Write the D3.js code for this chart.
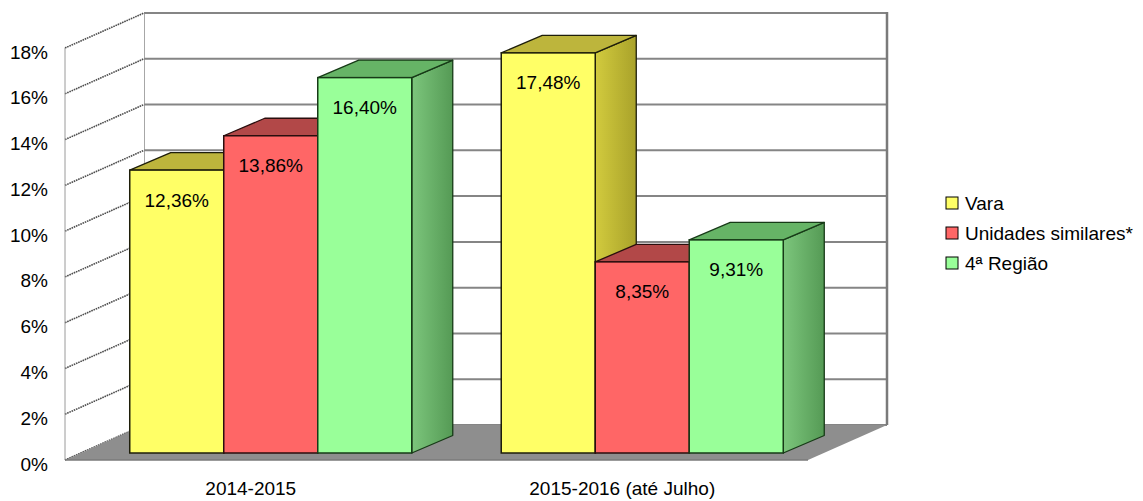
<!DOCTYPE html>
<html>
<head>
<meta charset="utf-8">
<script src="https://cdn.jsdelivr.net/npm/d3@7"></script>
<style>
  html, body { margin: 0; padding: 0; background: #fff; }
  svg { display: block; font-family: "Liberation Sans", Arial, Helvetica, sans-serif; }
</style>
</head>
<body>
<svg id="chart" width="1143" height="501"></svg>
<script>
// Taxa por período, em %
const categories = ["2014-2015", "2015-2016 (até Julho)"];
const seriesNames = ["Vara", "Unidades similares*", "4ª Região"];
const vara = [12.36, 17.48];
const unidadesSimilares = [13.86, 8.35];
const quartaRegiao = [16.40, 9.31];
const yTicks = [0, 2, 4, 6, 8, 10, 12, 14, 16, 18];

const seriesValues = [vara, unidadesSimilares, quartaRegiao];

// Face colours for each series: front, top, side (light → dark), outline
const palette = [
  { front: "#ffff66", top: "#bdb53c", sideA: "#d2cb3e", sideB: "#a9a22a", edge: "#1e1e0a" },
  { front: "#ff6666", top: "#b24848", sideA: "#c85252", sideB: "#a03c3c", edge: "#2a0e0e" },
  { front: "#99ff99", top: "#66b466", sideA: "#7cc67c", sideB: "#559a55", edge: "#173a17" }
];

const svg = d3.select("#chart");
const defs = svg.append("defs");
palette.forEach((c, i) => {
  const g = defs.append("linearGradient").attr("id", "side" + i)
    .attr("x1", "0%").attr("x2", "100%").attr("y1", "0%").attr("y2", "0%");
  g.append("stop").attr("offset", "0%").attr("stop-color", c.sideA);
  g.append("stop").attr("offset", "100%").attr("stop-color", c.sideB);
});

// Front plane of the 3D box and projection offsets
const plotLeft = 65, plotRight = 808;
const y = d3.scaleLinear().domain([0, 18]).range([460, 48]);
const wall = { dx: 79, dy: -35 };      // full depth of the box
const face = { dx: 20, dy: -7 };       // where the bar fronts sit
const barDepth = { dx: 41, dy: -17.5 };

const x0 = d3.scaleBand().domain(categories).range([plotLeft, plotRight]);
const x1 = d3.scaleBand().domain(seriesNames).range([0, x0.bandwidth()]).paddingOuter(0.476);

const pts = a => a.map(p => p.join(",")).join(" ");
const y0 = y(0), yMax = y(18);

// Back wall
svg.append("polygon")
  .attr("points", pts([[plotLeft + wall.dx, yMax + wall.dy], [plotRight + wall.dx, yMax + wall.dy],
                       [plotRight + wall.dx, y0 + wall.dy], [plotLeft + wall.dx, y0 + wall.dy]]))
  .attr("fill", "#fff");

// Back wall grid lines
svg.append("g").selectAll("line").data(yTicks).join("line")
  .attr("x1", plotLeft + wall.dx).attr("x2", plotRight + wall.dx)
  .attr("y1", d => y(d) + wall.dy).attr("y2", d => y(d) + wall.dy)
  .attr("stroke", "#858585").attr("stroke-width", 2);

// Back wall right edge and left back edge
svg.append("line")
  .attr("x1", plotRight + wall.dx).attr("x2", plotRight + wall.dx)
  .attr("y1", yMax + wall.dy - 1).attr("y2", y0 + wall.dy)
  .attr("stroke", "#7a7a7a").attr("stroke-width", 2.5);
svg.append("line")
  .attr("x1", plotLeft + wall.dx).attr("x2", plotLeft + wall.dx)
  .attr("y1", yMax + wall.dy).attr("y2", y0 + wall.dy)
  .attr("stroke", "#8a8a8a").attr("stroke-width", 1.5);

// Left side wall
svg.append("polygon")
  .attr("points", pts([[plotLeft, yMax], [plotLeft + wall.dx, yMax + wall.dy],
                       [plotLeft + wall.dx, y0 + wall.dy], [plotLeft, y0]]))
  .attr("fill", "#fff");
svg.append("g").selectAll("line").data(yTicks).join("line")
  .attr("x1", plotLeft).attr("x2", plotLeft + wall.dx)
  .attr("y1", d => y(d)).attr("y2", d => y(d) + wall.dy)
  .attr("stroke", "#4e4e4e").attr("stroke-width", 1.6)
  .attr("stroke-dasharray", "1.6 0.8");
svg.append("line")
  .attr("x1", plotLeft).attr("x2", plotLeft)
  .attr("y1", yMax).attr("y2", y0)
  .attr("stroke", "#9a9a9a").attr("stroke-width", 1);

// Floor
svg.append("polygon")
  .attr("points", pts([[plotLeft, y0], [plotRight, y0],
                       [plotRight + wall.dx, y0 + wall.dy], [plotLeft + wall.dx, y0 + wall.dy]]))
  .attr("fill", "#8e8e8e");
svg.append("line")
  .attr("x1", plotLeft).attr("x2", plotRight).attr("y1", y0).attr("y2", y0)
  .attr("stroke", "#7a7a7a").attr("stroke-width", 1.5);

// Bars
const fmt = d3.formatLocale({ decimal: ",", thousands: ".", grouping: [3], currency: ["", ""] }).format(".2f");
const bars = [];
categories.forEach((cat, i) => {
  seriesNames.forEach((s, j) => {
    bars.push({ cat, s, j, v: seriesValues[j][i] });
  });
});

const barG = svg.append("g");
bars.forEach(b => {
  const xl = x0(b.cat) + x1(b.s) + face.dx;
  const w = x1.bandwidth();
  const yt = y(b.v) + face.dy;
  const yb = y(0) + face.dy;
  const c = palette[b.j];
  const g = barG.append("g");
  g.append("polygon")
    .attr("points", pts([[xl + w, yt], [xl + w + barDepth.dx, yt + barDepth.dy],
                         [xl + w + barDepth.dx, yb + barDepth.dy], [xl + w, yb]]))
    .attr("fill", `url(#side${b.j})`).attr("stroke", c.edge).attr("stroke-width", 1.3)
    .attr("stroke-linejoin", "round");
  g.append("polygon")
    .attr("points", pts([[xl, yt], [xl + barDepth.dx, yt + barDepth.dy],
                         [xl + w + barDepth.dx, yt + barDepth.dy], [xl + w, yt]]))
    .attr("fill", c.top).attr("stroke", c.edge).attr("stroke-width", 1.3)
    .attr("stroke-linejoin", "round");
  g.append("rect")
    .attr("x", xl).attr("y", yt).attr("width", w).attr("height", yb - yt)
    .attr("fill", c.front).attr("stroke", c.edge).attr("stroke-width", 1.5);
  g.append("text")
    .attr("x", xl + w / 2).attr("y", yt + 30)
    .attr("text-anchor", "middle").attr("dominant-baseline", "central")
    .attr("font-size", 19).attr("fill", "#000")
    .text(fmt(b.v) + "%");
});

// Y axis labels
const yAxis = d3.axisLeft(y).tickValues(yTicks).tickSize(0).tickPadding(0)
  .tickFormat(d => d + "%");
svg.append("g")
  .attr("transform", "translate(48,4)")
  .call(yAxis)
  .call(g => g.select(".domain").remove())
  .call(g => g.selectAll("text").attr("font-size", 19).attr("fill", "#000")
    .attr("font-family", "Liberation Sans, Arial, sans-serif"));

// Category labels
const xAxis = d3.axisBottom(x0).tickSize(0).tickPadding(0);
svg.append("g")
  .attr("transform", "translate(0,481)")
  .call(xAxis)
  .call(g => g.select(".domain").remove())
  .call(g => g.selectAll("text").attr("font-size", 19).attr("fill", "#000")
    .attr("font-family", "Liberation Sans, Arial, sans-serif"));

// Legend
const legend = svg.append("g").attr("transform", "translate(946,203)");
seriesNames.forEach((s, j) => {
  const row = legend.append("g").attr("transform", `translate(0,${j * 30})`);
  row.append("rect").attr("x", 0).attr("y", -6).attr("width", 12).attr("height", 12)
    .attr("fill", palette[j].front).attr("stroke", "#000").attr("stroke-width", 1);
  row.append("text").attr("x", 19).attr("y", 0).attr("dominant-baseline", "central")
    .attr("font-size", 19).attr("fill", "#000").text(s);
});
</script>
</body>
</html>
